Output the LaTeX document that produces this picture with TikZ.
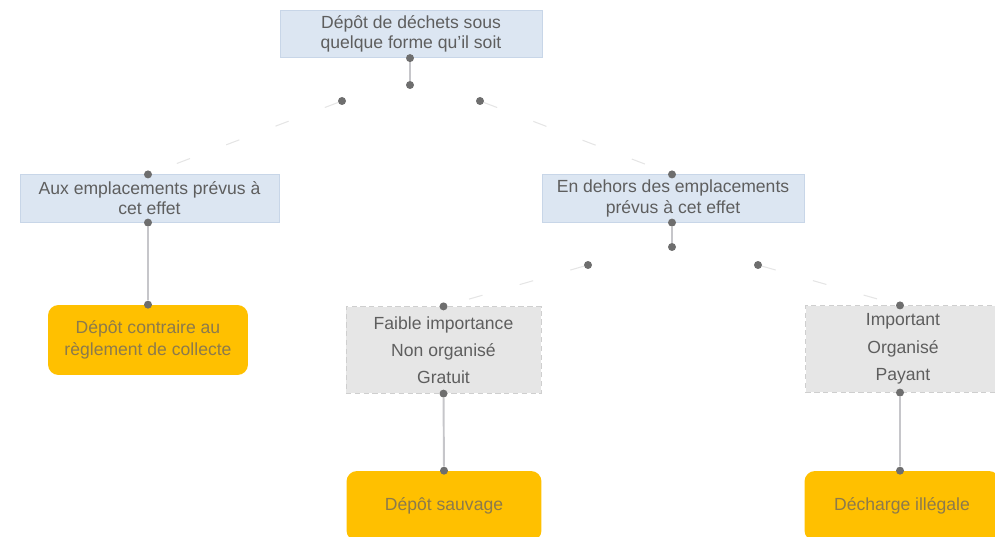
\documentclass[tikz,border=0pt]{standalone}
\usepackage{fontspec}
\setmainfont{Liberation Sans}
\definecolor{boxblue}{HTML}{DCE6F2}
\definecolor{edgeblue}{HTML}{C8D6E8}
\definecolor{boxgray}{HTML}{E6E6E6}
\definecolor{edgegray}{HTML}{CFCFCF}
\definecolor{boxorange}{HTML}{FFC000}
\definecolor{txtgray}{HTML}{5E5E5E}
\definecolor{txtbrown}{HTML}{8C7A4C}
\definecolor{dotgray}{HTML}{6E6E6E}
\definecolor{linkgray}{HTML}{C6C6CA}

\tikzstyle{bluebox}=[fill=boxblue, draw=edgeblue, text=txtgray, align=center, inner sep=0pt, minimum height=0.95cm, font=\fontsize{10}{11.5}\selectfont]
\tikzstyle{graybox}=[fill=boxgray, draw=edgegray, densely dashed, text=txtgray, align=center, inner sep=0pt, minimum width=3.9cm, minimum height=1.73cm, font=\fontsize{10}{15.5}\selectfont]
\tikzstyle{orangebox}=[fill=boxorange, rounded corners=6pt, text=txtbrown, align=center, inner sep=0pt, minimum width=3.9cm, minimum height=1.4cm, font=\fontsize{10}{12.5}\selectfont]
\tikzstyle{dot}=[circle, fill=dotgray, inner sep=0pt, minimum size=1.6mm]
\tikzstyle{link}=[draw, linkgray, line width=1.1pt]
\tikzstyle{faint}=[draw, black!10, line width=0.6pt, dash pattern=on 8pt off 22pt]

\begin{document}
\begin{tikzpicture}[x=0.02cm, y=-0.02cm]
    \clip (0,0) rectangle (995,537);
    % First we draw the boxes
    \node[bluebox, minimum width=5.24cm] (top) at (411,34) {Dépôt de déchets sous\\quelque forme qu’il soit};
    \node[bluebox, minimum width=5.18cm] (prevus) at (149.5,198.5) {Aux emplacements prévus à\\cet effet};
    \node[bluebox, minimum width=5.24cm] (dehors) at (673,198.5) {En dehors des emplacements\\prévus à cet effet};
    \node[orangebox, minimum width=4cm] (contraire) at (148,340) {Dépôt contraire au\\règlement de collecte};
    \node[graybox] (faible) at (443.5,350) {Faible importance\\Non organisé\\Gratuit};
    \node[graybox] (important) at (903,349) {Important\\Organisé\\Payant};
    \node[orangebox] (sauvage) at (444,506) {Dépôt sauvage};
    \node[orangebox] (decharge) at (902,506) {Décharge illégale};

    % Then the dots
    \foreach \pos/\name in {{(410,0 |- top.south)/t1}, {(410,85)/t2}, {(342,101)/t3}, {(480,101)/t4},
                            {(148,0 |- prevus.north)/p1}, {(148,0 |- prevus.south)/p2}, {(148,0 |- contraire.north)/p3},
                            {(672,0 |- dehors.north)/d1}, {(672,0 |- dehors.south)/d2}, {(672,247)/d3},
                            {(588,265)/d4}, {(758,265)/d5},
                            {(faible.north)/f1}, {(faible.south)/f2}, {(sauvage.north)/f3},
                            {(900,0 |- important.north)/i1}, {(900,0 |- important.south)/i2}, {(900,0 |- decharge.north)/i3}}
        \node[dot] (\name) at \pos {};

    % Connect the dots
    \foreach \source/\dest in {t1/t2, p2/p3, d2/d3, f2/f3, i2/i3}
        \path[link] (\source) -- (\dest);
    \foreach \source/\dest in {t3/p1, t4/d1, d4/f1, d5/i1}
        \path[faint] (\source) -- (\dest);
\end{tikzpicture}
\end{document}
